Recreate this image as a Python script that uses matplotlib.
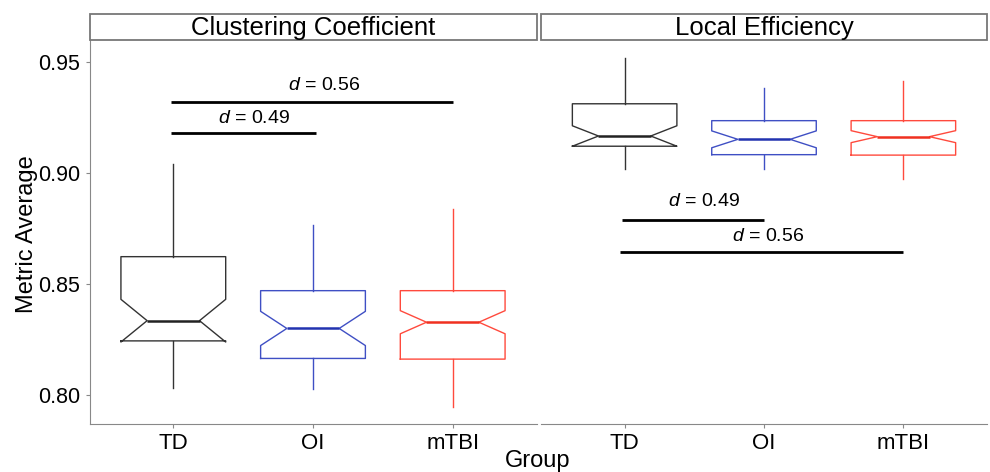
import matplotlib
matplotlib.use("Agg")
import matplotlib.pyplot as plt
from matplotlib.patches import Rectangle

plt.rcParams["font.family"] = ["Liberation Sans", "DejaVu Sans"]
plt.rcParams["mathtext.fontset"] = "custom"
plt.rcParams["mathtext.it"] = "Liberation Sans:italic"
plt.rcParams["mathtext.rm"] = "Liberation Sans"

groups = ["TD", "OI", "mTBI"]
colors = ["#333333", "#3F4FC4", "#FF4A3D"]
median_colors = ["#222222", "#2233B0", "#F03020"]
panels = ["Clustering Coefficient", "Local Efficiency"]

# box statistics, one list per panel
cc_whislo = [0.8034, 0.8030, 0.7946]
cc_q1 = [0.8245, 0.8166, 0.8163]
cc_med = [0.8336, 0.8301, 0.8329]
cc_q3 = [0.8624, 0.8471, 0.8471]
cc_whishi = [0.9040, 0.8766, 0.8837]
cc_notch = [0.0096, 0.0077, 0.0052]

le_whislo = [0.9017, 0.9017, 0.8973]
le_q1 = [0.9121, 0.9083, 0.9081]
le_med = [0.9167, 0.9152, 0.9164]
le_q3 = [0.9312, 0.9236, 0.9236]
le_whishi = [0.9517, 0.9382, 0.9416]
le_notch = [0.0046, 0.0038, 0.0027]

# effect size brackets: (x start, x end, y, label x, label y, text)
cc_brackets = [(0.98, 3.0, 0.9320, 2.08, 0.9393, "0.56"),
               (0.98, 2.02, 0.9180, 1.58, 0.9247, "0.49")]
le_brackets = [(0.98, 2.0, 0.8788, 1.57, 0.8873, "0.49"),
               (0.97, 3.0, 0.8644, 2.03, 0.8714, "0.56")]

stats_by_panel = [
    (cc_whislo, cc_q1, cc_med, cc_q3, cc_whishi, cc_notch, cc_brackets),
    (le_whislo, le_q1, le_med, le_q3, le_whishi, le_notch, le_brackets),
]

W, H = 990, 472
fig = plt.figure(figsize=(W / 100, H / 100), dpi=100)

panel_x = [(89.5, 536.5), (541, 987)]
y_top, y_bot = 40, 424
strip_top = 14
axis_grey = "#888888"

for p, (name, (x0, x1), st) in enumerate(zip(panels, panel_x, stats_by_panel)):
    whislo, q1, med, q3, whishi, notch, brackets = st
    ax = fig.add_axes([x0 / W, 1 - y_bot / H, (x1 - x0) / W, (y_bot - y_top) / H])

    for i in range(len(groups)):
        s = dict(med=med[i], q1=q1[i], q3=q3[i], whislo=whislo[i], whishi=whishi[i],
                 cilo=med[i] - notch[i], cihi=med[i] + notch[i], fliers=[])
        c = colors[i]
        ax.bxp([s], positions=[i + 1], widths=0.75, shownotches=True, showcaps=False,
               showfliers=False,
               boxprops=dict(color=c, linewidth=1.0),
               whiskerprops=dict(color=c, linewidth=1.0),
               medianprops=dict(color=median_colors[i], linewidth=1.8))

    for xs, xe, yy, tx, ty, txt in brackets:
        ax.plot([xs, xe], [yy, yy], color="black", linewidth=2.0, solid_capstyle="butt")
        ax.text(tx, ty, r"$d$" + " = " + txt, ha="center", va="center", fontsize=14)

    ax.set_xlim(0.4, 3.6)
    ax.set_ylim(0.7871, 0.9599)
    ax.set_xticks([1, 2, 3])
    ax.set_xticklabels(groups, fontsize=16)
    for side in ["top", "right"]:
        ax.spines[side].set_visible(False)
    ax.spines["bottom"].set_color(axis_grey)
    ax.spines["left"].set_color(axis_grey)
    ax.tick_params(colors=axis_grey, labelcolor="black", length=3, width=0.8)
    if p == 0:
        ax.set_yticks([0.80, 0.85, 0.90, 0.95])
        ax.set_yticklabels(["0.80", "0.85", "0.90", "0.95"], fontsize=15.5)
    else:
        ax.spines["left"].set_visible(False)
        ax.set_yticks([])

    # facet strip
    sax = fig.add_axes([x0 / W, 1 - y_top / H, (x1 - x0) / W, (y_top - strip_top) / H])
    sax.set_axis_off()
    sax.add_patch(Rectangle((0, 0), 1, 1, transform=sax.transAxes, facecolor="white",
                            edgecolor="#777777", linewidth=1.3, clip_on=False))
    sax.text(0.5, 0.45, name, ha="center", va="center", fontsize=18.5, transform=sax.transAxes)

fig.text(538 / W, 1 - 461 / H, "Group", ha="center", va="center", fontsize=17)
fig.text(27 / W, 1 - 234 / H, "Metric Average", ha="center", va="center",
         rotation=90, fontsize=17)

fig.savefig("out.png", dpi=100)
